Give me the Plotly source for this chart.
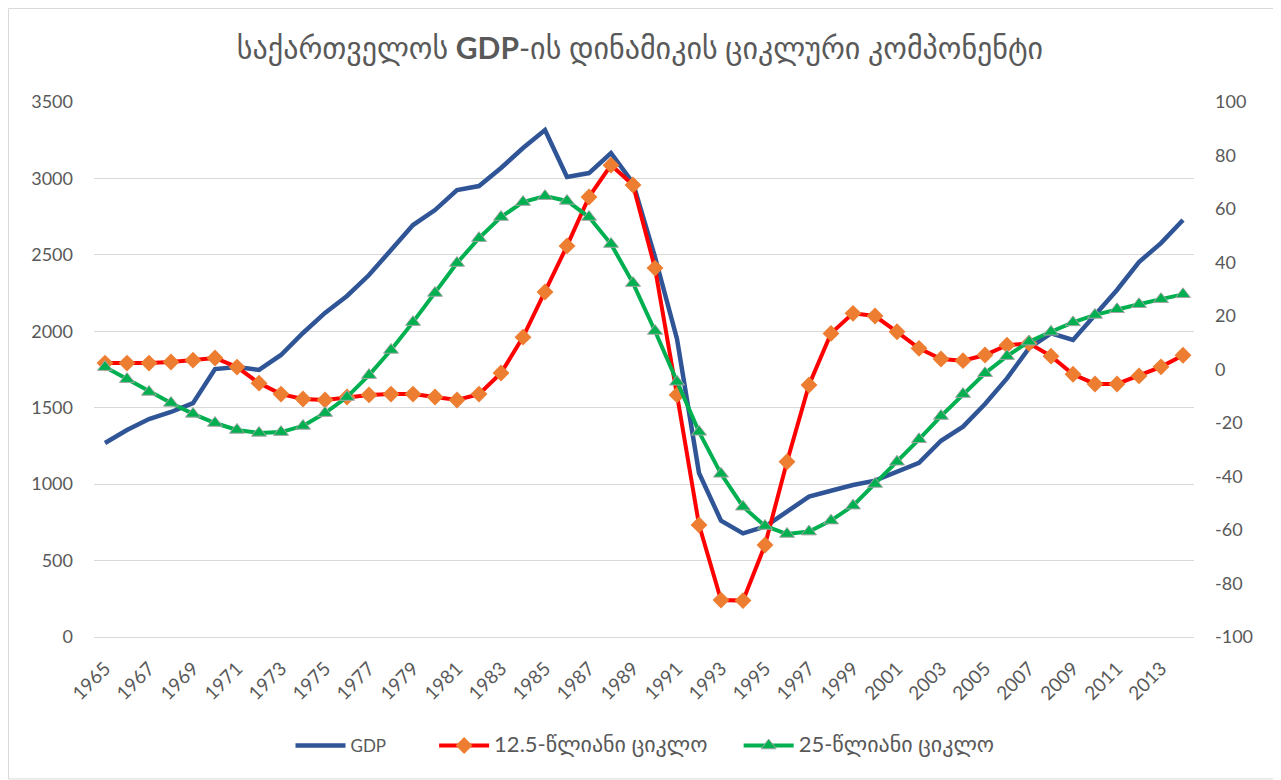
import plotly.graph_objects as go

years = [str(y) for y in range(1965, 2015)]

gdp = [1269, 1354, 1426, 1472, 1530, 1753, 1766, 1747, 1845, 1989,
       2120, 2231, 2368, 2532, 2695, 2793, 2924, 2950, 3068, 3199,
       3317, 3009, 3035, 3166, 2970, 2486, 1950, 1073, 761, 678,
       722, 820, 918, 957, 994, 1023, 1081, 1140, 1284, 1376,
       1524, 1692, 1889, 1987, 1943, 2106, 2270, 2453, 2577, 2728]

cycle12 = [2.4, 2.4, 2.4, 2.8, 3.5, 4.3, 0.9, -5.1, -9.2, -11.0,
           -11.4, -10.3, -9.5, -9.2, -9.2, -10.3, -11.4, -9.2, -1.3, 12.1,
           29.0, 46.2, 64.5, 76.4, 69.0, 37.9, -9.5, -58.1, -86.2, -86.4,
           -65.6, -34.5, -5.8, 13.5, 21.0, 20.0, 14.1, 7.9, 3.9, 3.3,
           5.4, 9.1, 9.8, 5.0, -1.8, -5.4, -5.4, -2.4, 1.0, 5.3]

cycle25 = [0.9, -3.6, -8.4, -12.5, -16.6, -20.0, -22.6, -23.7, -23.4, -21.1,
           -16.3, -10.3, -2.1, 7.3, 17.7, 28.6, 39.8, 49.1, 57.0, 62.6,
           64.8, 63.0, 57.0, 46.9, 32.3, 14.4, -4.6, -23.3, -39.0, -51.3,
           -58.5, -61.5, -60.6, -56.5, -50.9, -42.8, -34.5, -26.1, -17.4, -9.2,
           -1.4, 5.0, 10.4, 14.1, 17.6, 20.4, 22.5, 24.4, 26.3, 28.1]

tick_labels = years[::2]
left_ticks = list(range(0, 3501, 500))
right_ticks = list(range(-100, 101, 20))
right_tick_text = [str(v) for v in right_ticks]

title_geo1 = "საქართველოს"
title_mid = "GDP-ის"
title_geo2 = "დინამიკის ციკლური კომპონენტი"
names = ["GDP", "12.5-წლიანი ციკლო", "25-წლიანი ციკლო"]

FONT = "Lato, DejaVu Sans"
GRAY = "#595959"

# figure is placed by the page at (8, 8); size it to fit the 1281x780 window
W, H = 1273, 772
L, R, T, B = 86, 87, 94, 143
PW, PH = W - L - R, H - T - B

title_html = (f"{title_geo1} <b>{title_mid.split('-')[0]}</b>-"
              f"{title_mid.split('-')[1]} {title_geo2}")

NB = "\u00a0"
legend_names = [
    names[0] + NB * 10,
    f"<span style='font-size:22px'>{names[1]}</span>" + NB * 6,
    f"<span style='font-size:22px'>{names[2]}</span>",
]

fig = go.Figure()
fig.add_trace(go.Scatter(
    x=years, y=gdp, name=legend_names[0], mode="lines",
    line=dict(color="#2F5597", width=4.5), yaxis="y"))
fig.add_trace(go.Scatter(
    x=years, y=cycle12, name=legend_names[1], mode="lines+markers",
    line=dict(color="#FF0000", width=4),
    marker=dict(symbol="diamond", size=13, color="#ED7D31",
                line=dict(color="#ED7D31", width=0)),
    yaxis="y2"))
fig.add_trace(go.Scatter(
    x=years, y=cycle25, name=legend_names[2], mode="lines+markers",
    line=dict(color="#00B050", width=4),
    marker=dict(symbol="triangle-up", size=13, color="#00B050",
                line=dict(color="#A5A5A5", width=1)),
    yaxis="y2"))

fig.update_layout(
    width=W, height=H,
    margin=dict(l=L, r=R, t=T, b=B),
    paper_bgcolor="white", plot_bgcolor="white",
    font=dict(family=FONT, color=GRAY, size=18),
    title=dict(text=title_html, x=(640 - 8) / W, xanchor="center", y=1 - 40 / H, yanchor="middle",
               font=dict(family=FONT, size=30, color=GRAY)),
    showlegend=True,
    legend=dict(orientation="h", x=(645 - 8 - L) / PW, xanchor="center",
                y=(H - B - 738) / PH, yanchor="middle",
                font=dict(family=FONT, size=17, color=GRAY), itemwidth=50,
                traceorder="normal"),
    xaxis=dict(type="category", tickmode="array", tickvals=tick_labels, ticktext=tick_labels,
               range=[-0.5, len(years) - 0.5],
               tickangle=-45, showgrid=False, showline=True, linecolor="#D9D9D9",
               linewidth=1, ticks="", tickfont=dict(size=19, color=GRAY),
               ticklabelstandoff=12, automargin=False),
    yaxis=dict(range=[0, 3500], tickvals=left_ticks, showgrid=True, gridcolor="#D9D9D9",
               gridwidth=1, zeroline=False, showline=False, ticks="",
               tickfont=dict(size=18, color=GRAY), ticklabelstandoff=20, automargin=False),
    yaxis2=dict(range=[-100, 100], tickvals=right_ticks, ticktext=right_tick_text,
                overlaying="y", side="right",
                showgrid=False, zeroline=False, showline=False, ticks="",
                tickfont=dict(size=18, color=GRAY), ticklabelstandoff=20, automargin=False),
    shapes=[dict(type="rect", xref="paper", yref="paper",
                 x0=(0.5 - L) / PW, x1=(W - 1 - L) / PW,
                 y0=(H - B - (H - 1)) / PH, y1=(H - B - 0.5) / PH,
                 line=dict(color="#D9D9D9", width=1), fillcolor="rgba(0,0,0,0)",
                 layer="below")],
)

fig.write_html("out.html")
